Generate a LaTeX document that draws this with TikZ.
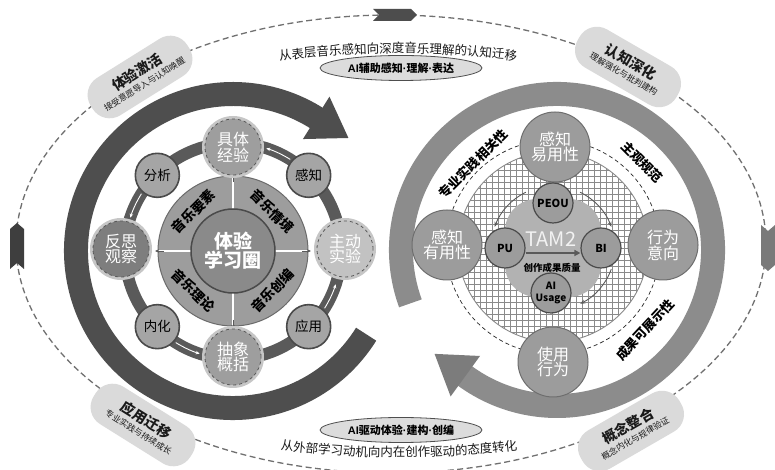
\documentclass[tikz,border=0pt]{standalone}
\usepackage{fontspec}
\setmainfont{Noto Sans CJK SC}
\newfontfamily\latf{Liberation Sans}
\usetikzlibrary{arrows.meta,calc,shapes.geometric,decorations.text}
\newcommand\myfs[2]{\fontsize{#1}{#2}\selectfont}
\newcommand\mdot{{\latf\textbf{·}}}
\definecolor{ellcol}{HTML}{707070}
\definecolor{ringL}{HTML}{4E4E4E}
\definecolor{ringR}{HTML}{8C8C8C}
\definecolor{ringRh}{HTML}{7C7C7C}
\definecolor{ringM}{HTML}{5A5A5A}
\definecolor{pillfill}{HTML}{DADADA}
\definecolor{ellfill}{HTML}{DCDCDC}
\definecolor{snfill}{HTML}{A5A5A5}
\definecolor{sndraw}{HTML}{4A4A4A}
\definecolor{piefill}{HTML}{9D9D9D}
\definecolor{corefill}{HTML}{8A8A8A}
\definecolor{bigA}{HTML}{9E9E9E}
\definecolor{bigB}{HTML}{7E7E7E}
\definecolor{bigC}{HTML}{C2C2C2}
\definecolor{halo}{HTML}{C6C6C6}
\definecolor{rbfill}{HTML}{9C9C9C}
\definecolor{rbdraw}{HTML}{6E6E6E}
\definecolor{sqfill}{HTML}{B2B2B2}
\definecolor{gridcol}{HTML}{8A8A8A}
\definecolor{mkA}{HTML}{4D4D4D}
\definecolor{mkB}{HTML}{3E3E3E}
\definecolor{mkC}{HTML}{7A7A7A}
\definecolor{txtdark}{HTML}{1A1A1A}
\begin{document}
\begin{tikzpicture}[x=1pt,y=1pt,
  pill/.style={rectangle, rounded corners=20pt, fill=pillfill, minimum width=114pt, minimum height=44pt, align=center, inner sep=2pt, text=txtdark},
  tag/.style={ellipse, draw=ellcol!70!black, line width=0.8pt, fill=ellfill, minimum width=162pt, minimum height=25pt, inner sep=0pt, text=black},
  snode/.style={circle, fill=snfill, draw=sndraw, line width=1.6pt, minimum size=44pt, inner sep=0pt, text=black},
  bnode/.style={circle, draw=ringM, dashed, line width=0.8pt, minimum size=56pt, inner sep=0pt, text=white, align=center},
  quad/.style={text=black, inner sep=0pt},
  rbig/.style={circle, fill=rbfill, draw=rbdraw, line width=1pt, minimum size=70pt, inner sep=0pt, text=white, align=center},
  rsmall/.style={circle, fill=rbfill, draw=sndraw, line width=1.2pt, minimum size=40pt, inner sep=0pt, text=black, align=center},
  rlab/.style={text=black, inner sep=0pt},
  carrow/.style={draw=ringM, line width=0.9pt, -{Stealth[length=5pt,width=4pt]}},
  warrow/.style={draw=white, line width=0.9pt, -{Stealth[length=4pt,width=3.5pt]}},
  tarrow/.style={draw=ringM, line width=0.8pt, -{Stealth[length=4pt,width=3.5pt]}},
]
\useasboundingbox (0,0) rectangle (775,470);
\fill[white] (0,0) rectangle (775,470);

% ---------- outer dashed ellipse and markers ----------
\draw[ellcol, line width=1.3pt, dash pattern=on 6pt off 3.5pt] (391,226) ellipse[x radius=375pt, y radius=229pt];
\fill[mkA] (373,461) -- (411,461) -- (417,455) -- (411,449) -- (373,449) -- (379,455) -- cycle;
\fill[mkB] (10,201) -- (10,241) -- (17,247) -- (24,241) -- (24,201) -- (17,207) -- cycle;
\fill[mkC] (761,245) -- (761,205) -- (768,199) -- (775,205) -- (775,245) -- (768,239) -- cycle;

% ---------- stage pills ----------
\node[pill, rotate=32] (s1) at (140,393) {\myfs{14}{17}\textbf{体验激活}\\\myfs{8.5}{10}接受意愿导入与认知唤醒};
\node[pill, rotate=-30] (s2) at (628,403) {\myfs{14}{17}\textbf{认知深化}\\\myfs{8.5}{10}理解强化与批判建构};
\node[pill, rotate=-32] (s3) at (143,45) {\myfs{14}{17}\textbf{应用迁移}\\\myfs{8.5}{10}专业实践与持续成长};
\node[pill, rotate=30] (s4) at (631,39) {\myfs{14}{17}\textbf{概念整合}\\\myfs{8.5}{10}概念内化与规律验证};

% ---------- top and bottom captions (curved) ----------
\coordinate (tc) at (398,-483);
\path[decorate, decoration={text along path, text align=center,
  text={|\myfs{12.5}{14}\color{txtdark}|从表层音乐感知向深度音乐理解的认知迁移}}]
  ($(tc)+(98:900pt)$) arc[start angle=98, end angle=82, radius=900pt];
\node[tag] (e1) at (401,402) {\myfs{11}{12}\textbf{{\latf AI}辅助感知\mdot 理解\mdot 表达}};
\node[tag] (e2) at (401,40) {\myfs{11}{12}\textbf{{\latf AI}驱动体验\mdot 建构\mdot 创编}};
\coordinate (bc) at (399,1013);
\path[decorate, decoration={text along path, text align=center,
  text={|\myfs{12.5}{14}\color{txtdark}|从外部学习动机向内在创作驱动的态度转化}}]
  ($(bc)+(262.5:1000pt)$) arc[start angle=262.5, end angle=277.5, radius=1000pt];

% ---------- big rings ----------
\coordinate (RR) at (557,220);
\draw[ringR, line width=24pt] ($(RR)+(200:156pt)$) arc[start angle=200, end angle=-127, radius=156pt];
\fill[ringRh] ($(RR)+(-126:131pt)$) -- ($(RR)+(-126:181pt)$) -- ($(RR)+(-126:156pt)+(144:38pt)$) -- cycle;

\coordinate (L) at (233,219);
\draw[ringL, line width=24pt] ($(L)+(-32:157pt)$) arc[start angle=-32, end angle=-303, radius=157pt];
\fill[ringL] ($(L)+(58:132pt)$) -- ($(L)+(58:182pt)$) -- ($(L)+(58:157pt)+(-32:38pt)$) -- cycle;

% ---------- left: experiential learning circle ----------
\draw[ringM, line width=12pt] (L) circle[radius=108pt];
\foreach \a in {58,148,238,328}
  \draw[warrow] ($(L)+(\a:108pt)$) arc[start angle=\a, end angle=\a+14, radius=108pt];

\fill[piefill] (L) circle[radius=75pt];
\draw[white, line width=1.4pt] ($(L)+(0,75)$) -- ($(L)+(0,-75)$);
\draw[white, line width=1.4pt] ($(L)+(-75,0)$) -- ($(L)+(75,0)$);
\draw[ringM!90!white, line width=1pt] (L) circle[radius=75pt];
\draw[tarrow] ($(L)+(0,69)$) -- ($(L)+(0,78)$);
\draw[tarrow] ($(L)+(0,-69)$) -- ($(L)+(0,-78)$);
\draw[tarrow] ($(L)+(69,0)$) -- ($(L)+(78,0)$);
\draw[tarrow] ($(L)+(-69,0)$) -- ($(L)+(-78,0)$);

\node[quad, rotate=45] (q1) at ($(L)+(135:56pt)$) {\myfs{13.5}{14}\textbf{音乐要素}};
\node[quad, rotate=-45] (q2) at ($(L)+(45:56pt)$) {\myfs{13.5}{14}\textbf{音乐情境}};
\node[quad, rotate=-45] (q3) at ($(L)+(225:56pt)$) {\myfs{13.5}{14}\textbf{音乐理论}};
\node[quad, rotate=45] (q4) at ($(L)+(315:56pt)$) {\myfs{13.5}{14}\textbf{音乐创编}};

\node[circle, fill=corefill, draw=sndraw, line width=1.5pt, minimum size=84pt, inner sep=0pt, text=white, align=center] (core) at (L) {\myfs{19}{23}\textbf{体验}\\\myfs{19}{23}\textbf{学习圈}};

\fill[halo] (233,323) circle[radius=31pt];
\fill[halo] (233,113) circle[radius=31pt];
\fill[halo] (121,221) circle[radius=31pt];
\fill[halo] (345,221) circle[radius=31pt];
\node[bnode, fill=bigA] (jt) at (233,323) {\myfs{16}{19}具体\\\myfs{16}{19}经验};
\node[bnode, fill=bigA] (cx) at (233,113) {\myfs{16}{19}抽象\\\myfs{16}{19}概括};
\node[bnode, fill=bigB] (fs) at (121,221) {\myfs{16}{19}反思\\\myfs{16}{19}观察};
\node[bnode, fill=bigC] (zd) at (345,221) {\myfs{16}{19}主动\\\myfs{16}{19}实验};

\node[snode] (fx) at ($(L)+(135:107pt)$) {\myfs{13.5}{14}分析};
\node[snode] (gz) at ($(L)+(45:107pt)$) {\myfs{13.5}{14}感知};
\node[snode] (nh) at ($(L)+(225:107pt)$) {\myfs{13.5}{14}内化};
\node[snode] (yy) at ($(L)+(315:107pt)$) {\myfs{13.5}{14}应用};

% ---------- right: TAM2 ----------
\coordinate (R) at (553,223);
\begin{scope}
  \clip (R) circle[radius=95pt];
  \fill[white] (R) circle[radius=95pt];
  \draw[gridcol, line width=0.5pt] ($(R)+(-96,-96)$) grid[step=6pt] ($(R)+(96,96)$);
\end{scope}
\draw[gridcol, line width=0.9pt] (R) circle[radius=95pt];
\draw[black!85, line width=0.7pt, dash pattern=on 4pt off 3pt] (R) circle[radius=107pt];

\node[rectangle, rounded corners=32pt, fill=sqfill, minimum width=96pt, minimum height=98pt] (sq) at ($(R)+(0,-1)$) {};

\node[rbig] (peou1) at (555,323) {\myfs{16}{19}感知\\\myfs{16}{19}易用性};
\node[rbig] (use1) at (553,108) {\myfs{16}{19}使用\\\myfs{16}{19}行为};
\node[rbig] (pu1) at (447,225) {\myfs{16}{19}感知\\\myfs{16}{19}有用性};
\node[rbig] (bi1) at (663,225) {\myfs{16}{19}行为\\\myfs{16}{19}意向};

\node[text=white!95!black] (tam) at (551,231) {\myfs{20}{22}TAM2};

\node[rsmall] (peou) at (553,267) {\myfs{11}{12}\textbf{PEOU}};
\node[rsmall] (pu) at (505,222) {\myfs{11}{12}\textbf{PU}};
\node[rsmall] (bi) at (601,222) {\myfs{11}{12}\textbf{BI}};
\node[rsmall] (ai) at (551,177) {\myfs{10}{10}\textbf{AI}\\\myfs{10}{10}\textbf{Usage}};

\draw[ringM, line width=1.6pt, -{Triangle[length=6pt,width=6pt]}] ($(pu.east)+(0,-5)$) -- ($(bi.west)+(0,-5)$);
\node[text=black] (q) at (552,202) {\myfs{9.5}{10}\textbf{创作成果质量}};

\coordinate (C2) at (553,222);
\draw[carrow] ($(C2)+(116:62pt)$) arc[start angle=116, end angle=160, radius=62pt];
\draw[carrow] ($(C2)+(64:62pt)$) arc[start angle=64, end angle=20, radius=62pt];
\draw[carrow] ($(C2)+(-20:62pt)$) arc[start angle=-20, end angle=-64, radius=62pt];

\node[rlab, rotate=45] (l1) at (473,306) {\myfs{13}{14}\textbf{专业实践相关性}};
\node[rlab, rotate=-45] (l2) at (642,308) {\myfs{13}{14}\textbf{主观规范}};
\node[rlab, rotate=47] (l3) at (645,140) {\myfs{13}{14}\textbf{成果可展示性}};
\end{tikzpicture}
\end{document}
